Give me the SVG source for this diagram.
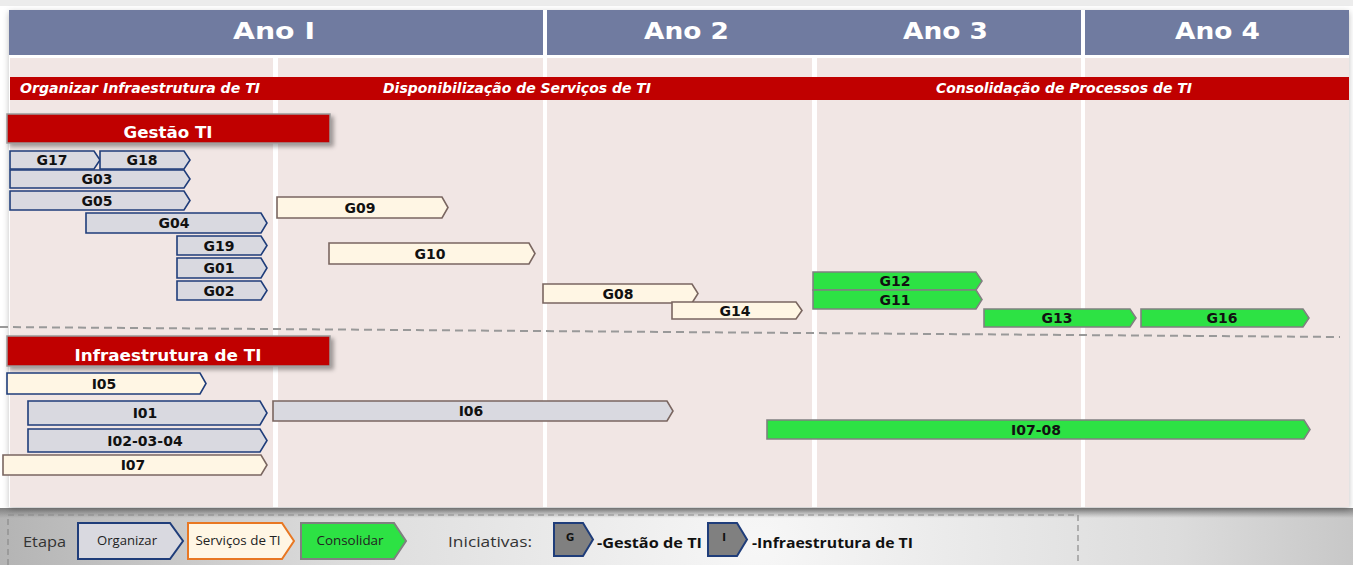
<svg xmlns="http://www.w3.org/2000/svg" width="1353" height="565" viewBox="0 0 1353 565">
<defs>
<radialGradient id="floor" cx="760" cy="545" r="760" gradientUnits="userSpaceOnUse">
<stop offset="0" stop-color="#f7f7f7"/>
<stop offset="0.55" stop-color="#dcdcdc"/>
<stop offset="1" stop-color="#b4b4b4"/>
</radialGradient>
<linearGradient id="topshade" x1="0" y1="0" x2="0" y2="1">
<stop offset="0" stop-color="#7a7a7a" stop-opacity="0.9"/>
<stop offset="1" stop-color="#7a7a7a" stop-opacity="0"/>
</linearGradient>
<filter id="shadow" x="-5%" y="-20%" width="115%" height="160%">
<feDropShadow dx="3" dy="3" stdDeviation="2" flood-color="#000" flood-opacity="0.35"/>
</filter>
<filter id="panelshadow" x="-2%" y="-2%" width="104%" height="106%">
<feDropShadow dx="0" dy="2" stdDeviation="3" flood-color="#000" flood-opacity="0.25"/>
</filter>
</defs>
<style>
.hdr{fill:#707ba0}
.hdrt{font-family:"DejaVu Sans",Verdana,sans-serif;font-weight:bold;font-size:23px;fill:#ffffff;text-anchor:middle}
.col{fill:#f1e6e4}
.band{fill:#c00000}
.bandt{font-family:"DejaVu Sans",Verdana,sans-serif;font-weight:bold;font-style:italic;font-size:14px;fill:#ffffff}
.sec{fill:#c00000;stroke:#9a9a9a;stroke-width:1.5}
.sect{font-family:"DejaVu Sans",Verdana,sans-serif;font-weight:bold;font-size:16px;fill:#ffffff;text-anchor:middle}
.org{fill:#d9d9e0;stroke:#1f3d7a;stroke-width:1.6}
.srv{fill:#fff6e4;stroke:#7a6660;stroke-width:1.6}
.srvb{fill:#fff6e4;stroke:#1f3d7a;stroke-width:1.6}
.orgbr{fill:#d9d9e0;stroke:#7a6660;stroke-width:1.6}
.con{fill:#2de244;stroke:#808080;stroke-width:1.6}
.lbl{font-family:"DejaVu Sans",Verdana,sans-serif;font-weight:bold;font-size:14px;fill:#111111;text-anchor:middle}
.leg{font-family:"Open Sans","Liberation Sans",sans-serif;font-size:15px;fill:#333333}
.legs{font-family:"Open Sans","Liberation Sans",sans-serif;font-size:12.5px;fill:#222222;text-anchor:middle}
.legb{font-family:"Open Sans","Liberation Sans",sans-serif;font-weight:bold;font-size:15px;fill:#111111}
.legsrv{fill:#fff6e4;stroke:#e87722;stroke-width:2}
.legorg{fill:#d9d9e0;stroke:#1f3d7a;stroke-width:2}
.legcon{fill:#2de244;stroke:#808080;stroke-width:2}
.legini{fill:#808080;stroke:#1f3d7a;stroke-width:2}
.inil{font-family:"DejaVu Sans",Verdana,sans-serif;font-weight:bold;font-size:10px;fill:#111111;text-anchor:middle}
</style>
<rect x="0" y="0" width="1353" height="565" fill="#ffffff"/>
<rect x="0" y="0" width="1353" height="6" fill="#ececec"/>
<rect x="0" y="508" width="1353" height="57" fill="url(#floor)"/>
<rect x="0" y="508" width="1353" height="10" fill="url(#topshade)"/>

<g id="background">
<rect x="9" y="10" width="1340" height="497" fill="#ffffff" filter="url(#panelshadow)"/>
<rect class="hdr" x="9" y="10" width="534" height="45"/>
<rect class="hdr" x="547" y="10" width="534" height="45"/>
<rect class="hdr" x="1085" y="10" width="264" height="45"/>
<text class="hdrt" x="274" y="39" textLength="82" lengthAdjust="spacingAndGlyphs">Ano I</text>
<text class="hdrt" x="686.5" y="39" textLength="85" lengthAdjust="spacingAndGlyphs">Ano 2</text>
<text class="hdrt" x="945.5" y="39" textLength="85" lengthAdjust="spacingAndGlyphs">Ano 3</text>
<text class="hdrt" x="1217.5" y="39" textLength="85" lengthAdjust="spacingAndGlyphs">Ano 4</text>
<rect class="col" x="10" y="58" width="263" height="449"/>
<rect class="col" x="278" y="58" width="265" height="449"/>
<rect class="col" x="547" y="58" width="265" height="449"/>
<rect class="col" x="817" y="58" width="264" height="449"/>
<rect class="col" x="1085" y="58" width="264" height="449"/>
<rect class="band" x="10" y="77" width="1339" height="23"/>
<text class="bandt" x="20" y="93" textLength="240" lengthAdjust="spacingAndGlyphs">Organizar Infraestrutura de TI</text>
<text class="bandt" x="383" y="93" textLength="268" lengthAdjust="spacingAndGlyphs">Disponibilização de Serviços de TI</text>
<text class="bandt" x="936" y="93" textLength="256" lengthAdjust="spacingAndGlyphs">Consolidação de Processos de TI</text>
</g>

<g id="connectors">
<line x1="0" y1="327" x2="1340" y2="337" stroke="#999999" stroke-width="2" stroke-dasharray="8,5"/>
</g>

<g id="sec-gestao">
<rect class="sec" x="7" y="114" width="323" height="29" filter="url(#shadow)"/>
<text class="sect" x="168" y="138" textLength="89" lengthAdjust="spacingAndGlyphs">Gestão TI</text>
</g>
<g id="sec-infra">
<rect class="sec" x="7" y="336" width="323" height="30" filter="url(#shadow)"/>
<text class="sect" x="168" y="361" textLength="187" lengthAdjust="spacingAndGlyphs">Infraestrutura de TI</text>
</g>

<g id="G17"><polygon class="org" points="10,151 94,151 100,160 94,169 10,169"/><text class="lbl" x="52" y="165">G17</text></g>
<g id="G18"><polygon class="org" points="100,151 184,151 190,160 184,169 100,169"/><text class="lbl" x="142" y="165">G18</text></g>
<g id="G03"><polygon class="org" points="10,170 184,170 190,179 184,188 10,188"/><text class="lbl" x="97" y="184">G03</text></g>
<g id="G05"><polygon class="org" points="10,191 184,191 190,200.5 184,210 10,210"/><text class="lbl" x="97" y="205.5">G05</text></g>
<g id="G04"><polygon class="org" points="86,213 261,213 267,223 261,233 86,233"/><text class="lbl" x="174" y="228">G04</text></g>
<g id="G19"><polygon class="org" points="177,236 261,236 267,245.5 261,255 177,255"/><text class="lbl" x="219" y="250.5">G19</text></g>
<g id="G01"><polygon class="org" points="177,258 261,258 267,268 261,278 177,278"/><text class="lbl" x="219" y="273">G01</text></g>
<g id="G02"><polygon class="org" points="177,281 261,281 267,290.5 261,300 177,300"/><text class="lbl" x="219" y="295.5">G02</text></g>
<g id="G09"><polygon class="srv" points="277,197 442,197 448,207.5 442,218 277,218"/><text class="lbl" x="360" y="212.5">G09</text></g>
<g id="G10"><polygon class="srv" points="329,243 529,243 535,253.5 529,264 329,264"/><text class="lbl" x="430" y="258.5">G10</text></g>
<g id="G08"><polygon class="srv" points="543,284 692,284 698,293.5 692,303 543,303"/><text class="lbl" x="618" y="298.5">G08</text></g>
<g id="G14"><polygon class="srv" points="672,302 796,302 802,310.5 796,319 672,319"/><text class="lbl" x="735" y="315.5">G14</text></g>
<g id="G12"><polygon class="con" points="813,272 976,272 982,281 976,290 813,290"/><text class="lbl" x="895" y="286">G12</text></g>
<g id="G11"><polygon class="con" points="813,290 976,290 982,299.5 976,309 813,309"/><text class="lbl" x="895" y="304.5">G11</text></g>
<g id="G13"><polygon class="con" points="984,309 1130,309 1136,318 1130,327 984,327"/><text class="lbl" x="1057" y="323">G13</text></g>
<g id="G16"><polygon class="con" points="1141,309 1303,309 1309,318 1303,327 1141,327"/><text class="lbl" x="1222" y="323">G16</text></g>

<g id="I05"><polygon class="srvb" points="7,373 200,373 206,383.5 200,394 7,394"/><text class="lbl" x="104" y="388.5">I05</text></g>
<g id="I01"><polygon class="org" points="28,401 260,401 267,413 260,425 28,425"/><text class="lbl" x="145" y="418">I01</text></g>
<g id="I02-03-04"><polygon class="org" points="28,429 260,429 267,440.5 260,452 28,452"/><text class="lbl" x="145" y="445.5">I02-03-04</text></g>
<g id="I07"><polygon class="srv" points="3,455 261,455 267,465 261,475 3,475"/><text class="lbl" x="133" y="470">I07</text></g>
<g id="I06"><polygon class="orgbr" points="273,401 667,401 673,411 667,421 273,421"/><text class="lbl" x="471" y="416">I06</text></g>
<g id="I07-08"><polygon class="con" points="767,420 1304,420 1310,429.5 1304,439 767,439"/><text class="lbl" x="1036" y="434.5">I07-08</text></g>

<g id="legend">
<rect x="8" y="515" width="1070" height="70" fill="none" stroke="#8a8a8a" stroke-width="1.2" stroke-dasharray="6,4"/>
<text class="leg" x="23" y="547" textLength="43" lengthAdjust="spacingAndGlyphs">Etapa</text>
<polygon class="legorg" points="78,523 170,523 183,541 170,559 78,559"/>
<text class="legs" x="127" y="545" textLength="60" lengthAdjust="spacingAndGlyphs">Organizar</text>
<polygon class="legsrv" points="188,523 282,523 294,541 282,559 188,559"/>
<text class="legs" x="238" y="545" textLength="85" lengthAdjust="spacingAndGlyphs">Serviços de TI</text>
<polygon class="legcon" points="301,523 394,523 406,541 394,559 301,559"/>
<text class="legs" x="350" y="545" textLength="67" lengthAdjust="spacingAndGlyphs">Consolidar</text>
<text class="leg" x="448" y="547" textLength="84" lengthAdjust="spacingAndGlyphs">Iniciativas:</text>
<polygon class="legini" points="554,523 583,523 593,539.5 583,556 554,556"/>
<text class="inil" x="570" y="541">G</text>
<text class="legb" x="597" y="548" textLength="105" lengthAdjust="spacingAndGlyphs">-Gestão de TI</text>
<polygon class="legini" points="708,523 737,523 747,539.5 737,556 708,556"/>
<text class="inil" x="724" y="541">I</text>
<text class="legb" x="752" y="548" textLength="161" lengthAdjust="spacingAndGlyphs">-Infraestrutura de TI</text>
</g>
</svg>
